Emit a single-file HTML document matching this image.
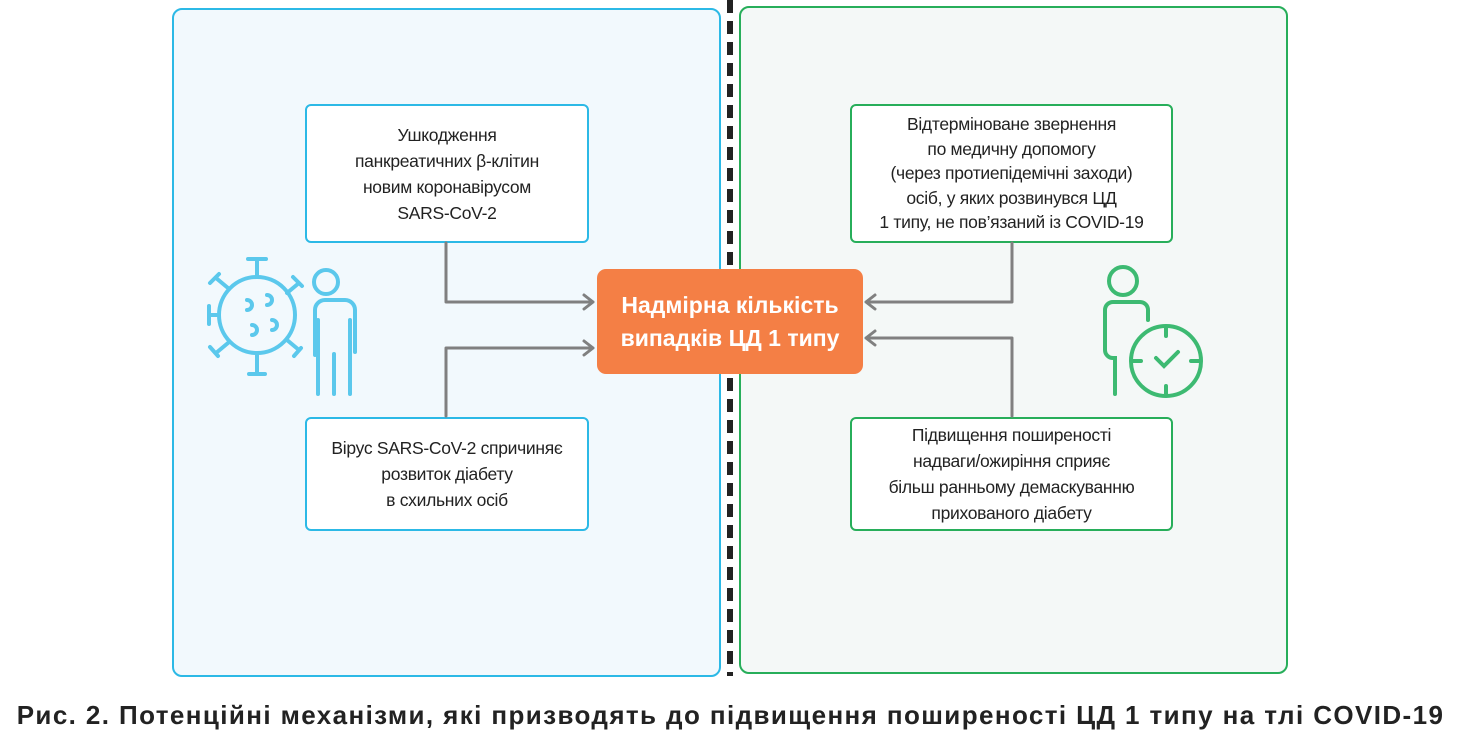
<!DOCTYPE html>
<html><head><meta charset="utf-8"><style>
body{margin:0;width:1461px;height:735px;background:#fff;position:relative;overflow:hidden;font-family:"Liberation Sans",sans-serif}
.p{position:absolute;box-sizing:border-box;border-radius:10px}
.b{position:absolute;box-sizing:border-box;background:#fff;border-radius:6px;display:flex;align-items:center;justify-content:center;text-align:center;font-size:17.5px;line-height:26px;color:#222;letter-spacing:-0.3px}
</style></head><body>
<div class="p" style="left:172px;top:8px;width:549px;height:669px;border:2px solid #2cb9e6;background:#f2f9fd"></div>
<div class="p" style="left:739px;top:6px;width:549px;height:668px;border:2px solid #27ae5a;background:#f4f8f7"></div>
<div style="position:absolute;left:727px;top:0;width:6px;height:676px;background:repeating-linear-gradient(#222 0 13px,transparent 13px 21px)"></div>
<div class="b" style="left:305px;top:104px;width:284px;height:139px;border:2px solid #2cb9e6">Ушкодження<br>панкреатичних β-клітин<br>новим коронавірусом<br>SARS-CoV-2</div>
<div class="b" style="left:305px;top:417px;width:284px;height:114px;border:2px solid #2cb9e6">Вірус SARS-CoV-2 спричиняє<br>розвиток діабету<br>в схильних осіб</div>
<div class="b" style="left:850px;top:104px;width:323px;height:139px;border:2px solid #27ae5a;line-height:24.5px">Відтерміноване звернення<br>по медичну допомогу<br>(через протиепідемічні заходи)<br>осіб, у яких розвинувся ЦД<br>1 типу, не пов’язаний із COVID-19</div>
<div class="b" style="left:850px;top:417px;width:323px;height:114px;border:2px solid #27ae5a">Підвищення поширеності<br>надваги/ожиріння сприяє<br>більш ранньому демаскуванню<br>прихованого діабету</div>
<div class="b" style="left:597px;top:269px;width:266px;height:105px;background:#f47f45;border-radius:9px;color:#fff;font-weight:bold;font-size:23px;line-height:33px;letter-spacing:0">Надмірна кількість<br>випадків ЦД 1 типу</div>
<svg width="1461" height="735" style="position:absolute;left:0;top:0" fill="none">
<g stroke="#808080" stroke-width="3" stroke-linecap="round" stroke-linejoin="round">
<path d="M446 243V302H593M584 295L593 302L584 309"/>
<path d="M446 416V348H593M584 341L593 348L584 355"/>
<path d="M1012 243V302H866M875 295L866 302L875 309"/>
<path d="M1012 416V338H866M875 331L866 338L875 345"/>
</g>
<g stroke="#5bc8ec" stroke-width="4" stroke-linecap="round">
<circle cx="326" cy="282" r="12"/>
<path d="M315 355V310a10 10 0 0 1 10-10h20a10 10 0 0 1 10 10v42M318 320v74M350 320v74M334 354v40"/>
<circle cx="257" cy="315" r="38"/>
<path d="M257 277v-18M248 259h18M287 293l12-10M293 277l9 9M219 315h-10M209 306v18M228 288l-12-10M210 283l9-9M228 343l-12 10M210 347l8 9M257 353v20M249 374h16M287 340l12 10M294 356l7-8"/>
<path d="M247 300a5 5 0 1 1 0 10M267 295a5 5 0 1 1 0 10M252 325a5 5 0 1 1 0 10M272 320a5 5 0 1 1 0 10"/>
</g>
<g stroke="#3dba72" stroke-width="4" stroke-linecap="round">
<circle cx="1123" cy="281" r="14"/>
<path d="M1148 320v-10a8 8 0 0 0-8-8h-27a8 8 0 0 0-8 8v40a8 8 0 0 0 8 8h2v36"/>
<circle cx="1166" cy="361" r="35"/>
<path d="M1166 328v8M1166 386v8M1133 361h8M1191 361h8M1156 358l8 8l14-14"/>
</g>
</svg>
<div style="position:absolute;left:0;top:700px;width:1461px;text-align:center;font-weight:bold;font-size:26px;letter-spacing:1.4px;color:#222;white-space:nowrap">Рис. 2. Потенційні механізми, які призводять до підвищення поширеності ЦД 1 типу на тлі COVID-19</div>
</body></html>
